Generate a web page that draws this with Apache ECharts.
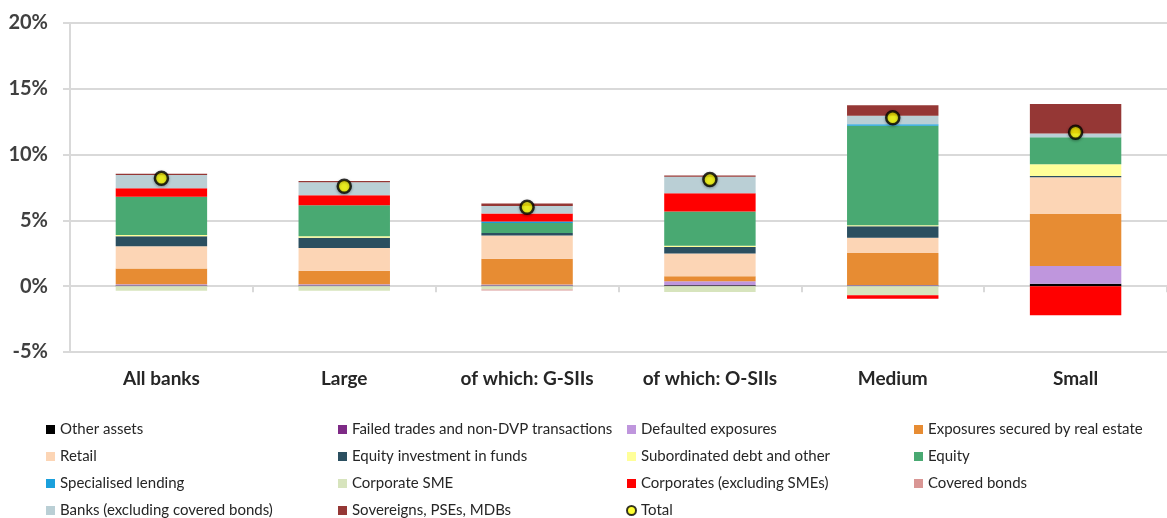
<!DOCTYPE html>
<html>
<head>
<meta charset="utf-8">
<script src="https://cdn.jsdelivr.net/npm/echarts@6/dist/echarts.min.js"></script>
<style>
  html, body { margin: 0; padding: 0; background: #fff; }
  #chart { width: 1167px; height: 518px; }
</style>
</head>
<body>
<div id="chart"></div>
<script>
// categories and series values (percentage points)
const categories = ['All banks', 'Large', 'of which: G-SIIs', 'of which: O-SIIs', 'Medium', 'Small']
const yTicks = [-5, 0, 5, 10, 15, 20]

const otherAssets  = [0.05, 0.05, 0.05, 0.08, 0.05, 0.18]
const failedTrades = [0, 0, 0, 0, 0, 0]
const defaulted    = [0.1, 0.1, 0.08, 0.3, 0.05, 1.35]
const realEstate   = [1.2, 1.02, 1.96, 0.38, 2.42, 3.95]
const retail       = [1.68, 1.73, 1.76, 1.73, 1.17, 2.8]
const equityFunds  = [0.76, 0.79, 0.2, 0.48, 0.87, 0.1]
const subordinated = [0.1, 0.1, 0, 0.1, 0.08, 0.89]
const equity       = [2.9, 2.37, 0.76, 2.6, 7.56, 2.04]
const specialised  = [0, 0, 0.1, 0, 0.1, 0]
const corporateSme = [-0.35, -0.35, -0.25, -0.45, -0.69, 0]
const corporates   = [0.66, 0.76, 0.61, 1.4, -0.27, -2.2]
const coveredBonds = [0, 0, -0.08, 0, 0, 0]
const banks        = [1.0, 0.97, 0.58, 1.25, 0.66, 0.3]
const sovereigns   = [0.1, 0.1, 0.18, 0.1, 0.79, 2.24]
const total        = [8.2, 7.6, 6.0, 8.1, 12.8, 11.7]

const chart = echarts.init(document.getElementById('chart'))

const stackDefs = [
  ['Other assets', otherAssets, '#000000'],
  ['Failed trades and non-DVP transactions', failedTrades, '#7e2a86'],
  ['Defaulted exposures', defaulted, '#bf96dd'],
  ['Exposures secured by real estate', realEstate, '#e78c33'],
  ['Retail', retail, '#fcd5b5'],
  ['Equity investment in funds', equityFunds, '#2b4f60'],
  ['Subordinated debt and other', subordinated, '#ffff99'],
  ['Equity', equity, '#49a972'],
  ['Specialised lending', specialised, '#1aa0dc'],
  ['Corporate SME', corporateSme, '#d7e4bd'],
  ['Corporates (excluding SMEs)', corporates, '#ff0000'],
  ['Covered bonds', coveredBonds, '#d99694'],
  ['Banks (excluding covered bonds)', banks, '#bacfd5'],
  ['Sovereigns, PSEs, MDBs', sovereigns, '#953735']
]

const series = stackDefs.map(([name, data, color]) => ({
  name: name,
  type: 'bar',
  stack: 'total',
  barWidth: '50%',
  data: data,
  itemStyle: { color: color },
  emphasis: { disabled: true }
}))

series.push({
  name: 'Total',
  type: 'scatter',
  data: total,
  symbol: 'circle',
  symbolSize: 13,
  itemStyle: {
    color: '#ffff00',
    borderColor: '#000',
    borderWidth: 2.5,
    shadowColor: 'rgba(0,0,0,0.35)',
    shadowBlur: 3,
    shadowOffsetY: 1
  },
  z: 5
})

// legend laid out in 4 columns like the original
const columns = [
  ['Other assets', 'Retail', 'Specialised lending', 'Banks (excluding covered bonds)'],
  ['Failed trades and non-DVP transactions', 'Equity investment in funds', 'Corporate SME', 'Sovereigns, PSEs, MDBs'],
  ['Defaulted exposures', 'Subordinated debt and other', 'Corporates (excluding SMEs)', 'Total'],
  ['Exposures secured by real estate', 'Equity', 'Covered bonds']
]
const colLeft = [46, 338, 626, 914]
const legends = columns.map((names, i) => ({
  orient: 'vertical',
  left: colLeft[i],
  top: 422,
  height: 140,
  padding: 0,
  itemWidth: 9,
  itemHeight: 9,
  itemGap: 12,
  selectedMode: false,
  textStyle: { fontFamily: 'Lato', fontSize: 15, color: '#262626' },
  data: names.map(n => n === 'Total' ? { name: n, icon: 'circle' } : { name: n, icon: 'rect' })
}))

const option = {
  animation: false,
  textStyle: { fontFamily: 'Lato' },
  legend: legends,
  grid: { left: 70, right: -10, top: 23, bottom: 166, containLabel: false },
  xAxis: [
    {
      type: 'category',
      data: categories,
      position: 'bottom',
      axisLine: { show: false, onZero: false },
      axisTick: { show: false },
      axisLabel: { fontSize: 19, fontWeight: 'bold', color: '#262626', margin: 17 }
    },
    {
      type: 'category',
      data: categories,
      position: 'top',
      axisLine: { show: true, onZero: true, lineStyle: { color: '#d9d9d9', width: 2 } },
      axisTick: { show: true, inside: true, length: 6, lineStyle: { color: '#d9d9d9', width: 2 } },
      axisLabel: { show: false }
    }
  ],
  yAxis: {
    type: 'value',
    min: yTicks[0],
    max: yTicks[yTicks.length - 1],
    interval: 5,
    axisLine: { show: true, lineStyle: { color: '#d9d9d9', width: 2 } },
    axisTick: { show: true, length: 7, lineStyle: { color: '#d9d9d9', width: 2 } },
    axisLabel: { fontSize: 20, fontWeight: 'bold', color: '#404040', margin: 22, formatter: v => v + '%' },
    splitLine: { show: true, lineStyle: { color: '#d9d9d9', width: 2 } }
  },
  series: series
}

chart.setOption(option)
</script>
</body>
</html>
